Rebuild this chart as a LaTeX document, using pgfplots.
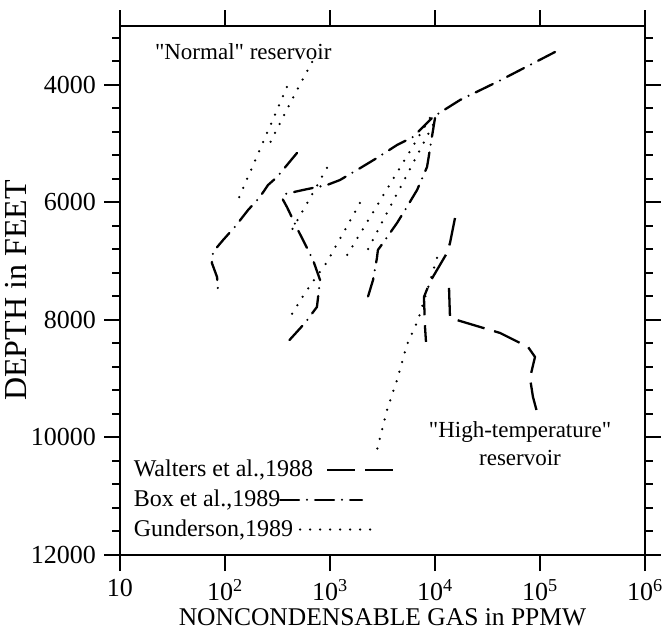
\documentclass[border=0pt]{standalone}
\usepackage{fontspec}
\setmainfont{Liberation Serif}
\newfontfamily\qfont{Liberation Serif}
\usepackage{pgfplots}
\pgfplotsset{compat=1.18}
\begin{document}
\fontsize{24}{29}\selectfont
\begin{tikzpicture}[
  walters/.style={black, line width=2.3pt, dash pattern=on 28pt off 10pt},
  box/.style={black, line width=2.3pt, line cap=round, dash pattern=on 19pt off 8pt on 0pt off 8pt},
  gund/.style={black, line width=2.5pt, line cap=round, dash pattern=on 0pt off 10pt}]
\path[use as bounding box] (-120pt,-82pt) rectangle (549pt,555pt);
\begin{axis}[
  at={(0pt,0pt)}, anchor=south west,
  width=525pt, height=529pt, scale only axis,
  xmode=log, xmin=10, xmax=1e6,
  ymin=3000, ymax=12000, y dir=reverse,
  xtick={10,100,1000,10000,100000,1000000},
  xticklabels={10,10\textsuperscript{2},10\textsuperscript{3},10\textsuperscript{4},10\textsuperscript{5},10\textsuperscript{6}},
  xminorticks=false,
  scaled y ticks=false,
  ytick={4000,6000,8000,10000,12000},
  yticklabels={4000,6000,8000,10000,12000},
  minor ytick={3200,3600,4400,4800,5200,5600,6400,6800,7200,7600,8400,8800,9200,9600,10400,10800,11200,11600},
  tick align=outside,
  major tick length=16pt, minor tick length=8pt,
  axis line style={line width=2pt},
  every tick/.style={black, line width=2pt},
  ticklabel style={font=\fontsize{26}{31}\selectfont},
  xlabel={NONCONDENSABLE GAS in PPMW},
  ylabel={DEPTH in FEET},
  xlabel style={font=\fontsize{25.5}{30}\selectfont, yshift=8pt},
  ylabel style={font=\fontsize{32}{38}\selectfont, yshift=-12pt},
  legend style={draw=none, fill=none, at={(0.022,0.184)}, anchor=north west,
    font=\fontsize{24}{29}\selectfont, row sep=5.5pt, inner sep=0pt},
  legend cell align=left,
  legend plot pos=right,
]
\addlegendimage{legend image code/.code={\path[draw=none,fill=none] (0pt,-1pt) rectangle (1pt,1pt); \draw[walters,overlay] (12pt,0pt) -- (83pt,0pt);}}
\addlegendentry{Walters et al.,1988}
\addlegendimage{legend image code/.code={\path[draw=none,fill=none] (0pt,-1pt) rectangle (1pt,1pt); \draw[box,overlay] (-35pt,0pt) -- (47pt,0pt);}}
\addlegendentry{Box et al.,1989}
\addlegendimage{legend image code/.code={\path[draw=none,fill=none] (0pt,-1pt) rectangle (1pt,1pt); \draw[gund,overlay] (-15pt,0pt) -- (60pt,0pt);}}
\addlegendentry{Gunderson,1989}

% Box et al. 1989
\addplot[box] coordinates {(1.39e5,3442) (3.89e4,3953) (1.73e4,4259) (9570,4548) (6170,4888) (4350,5024) (2800,5245) (2020,5398) (1245,5620) (936,5705) (553,5790) (373,5858) (349,5926) (389,6079) (495,6470) (689,6980) (804,7321) (751,7780) (578,8052) (373,8426)};
\addplot[box] coordinates {(10000,4565) (8400,5398) (6750,5790) (5400,6079) (4350,6351) (3200,6691) (2860,6810) (2800,6946) (2570,7321) (2250,7661)};
\addplot[box] coordinates {(485,5160) (313,5569) (257,5705) (215,5909) (166,6130) (124,6419) (96,6640) (77,6844) (75,7031) (84,7270) (86,7542)};

% Gunderson 1989
\addplot[gund] coordinates {(675,3612) (485,4089) (357,4548) (257,5058)};
\addplot[gund] coordinates {(389,4038) (133,5960)};
\addplot[gund] coordinates {(936,5415) (434,6470)};
\addplot[gund] coordinates {(1930,6011) (936,7015) (604,7491) (416,7950)};
\addplot[gund] coordinates {(8950,4565) (1330,7015)};
\addplot[gund] coordinates {(9570,4684) (2150,6895)};
\addplot[gund] coordinates {(10450,6946) (8570,7457) (6890,8001) (5400,8426) (4350,9022) (3490,9532) (2800,10212)};

% Walters et al. 1988
\addplot[walters] coordinates {(15500,6266) (13900,6691) (13000,6861) (8950,7355) (7850,7610) (8030,8120) (8210,8375)};
\addplot[walters] coordinates {(13600,7457) (13900,7967) (17300,8018) (33400,8171) (41600,8222) (76900,8460) (89600,8630) (80300,8988) (85700,9311) (93600,9566)};

\node[anchor=west, font=\qfont\fontsize{23}{28}\selectfont] at (axis cs:18,3442) {"Normal" reservoir};
\node[align=center, font=\qfont\fontsize{23}{28}\selectfont] at (axis cs:64500,10100) {"High-temperature"\\reservoir};
\end{axis}
\end{tikzpicture}
\end{document}
